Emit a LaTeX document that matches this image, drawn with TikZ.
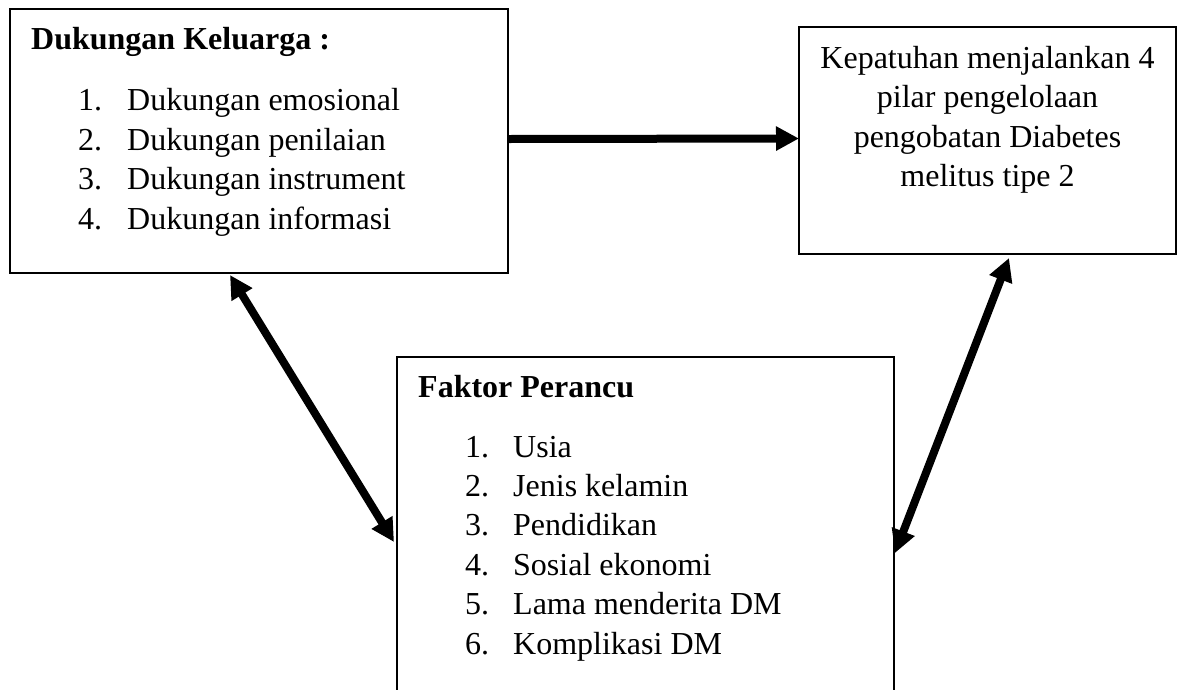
\documentclass[tikz,border=0pt]{standalone}
\usepackage{fontspec}
\setmainfont{Liberation Serif}
\usetikzlibrary{arrows.meta}
\begin{document}
\begin{tikzpicture}[x=1pt,y=-1pt,
  box/.style={draw, line width=1.2pt, inner sep=0pt, outer sep=0pt, anchor=north west},
  txt/.style={inner sep=0pt, anchor=base west, font=\fontsize{32}{39}\selectfont},
  ttl/.style={inner sep=0pt, anchor=base west, font=\fontsize{32}{39}\selectfont\bfseries},
  ctr/.style={inner sep=0pt, anchor=base, font=\fontsize{32}{39}\selectfont},
  tip/.tip={Triangle[length=23pt,width=23pt]},
  arr/.style={line width=8pt, -tip},
  darr/.style={line width=8pt, tip-tip}]
\clip (0,0) rectangle (1178,689);
\fill[white] (0,0) rectangle (1178,689);
% boxes
\node[box, minimum width=498pt, minimum height=264pt] (b1) at (10,9) {};
\node[box, minimum width=377pt, minimum height=227pt] (b2) at (799,27) {};
\node[box, minimum width=497pt, minimum height=370pt] (b3) at (397,357) {};
% box 1 text
\node[ttl] (t1) at (31,49) {Dukungan Keluarga :};
\node[txt] (d1) at (78,110.5) {\makebox[49pt][l]{1.}Dukungan emosional};
\node[txt] (d2) at (78,150) {\makebox[49pt][l]{2.}Dukungan penilaian};
\node[txt] (d3) at (78,189.5) {\makebox[49pt][l]{3.}Dukungan instrument};
\node[txt] (d4) at (78,229) {\makebox[49pt][l]{4.}Dukungan informasi};
% box 2 text
\node[ctr] (k1) at (987.5,68.3) {Kepatuhan menjalankan 4};
\node[ctr] (k2) at (987.5,107.5) {pilar pengelolaan};
\node[ctr] (k3) at (987.5,147) {pengobatan Diabetes};
\node[ctr] (k4) at (987.5,186.5) {melitus tipe 2};
% box 3 text
\node[ttl] (t3) at (418,397) {Faktor Perancu};
\node[txt] (f1) at (465,457) {\makebox[48pt][l]{1.}Usia};
\node[txt] (f2) at (465,496.4) {\makebox[48pt][l]{2.}Jenis kelamin};
\node[txt] (f3) at (465,535.8) {\makebox[48pt][l]{3.}Pendidikan};
\node[txt] (f4) at (465,575.2) {\makebox[48pt][l]{4.}Sosial ekonomi};
\node[txt] (f5) at (465,614.6) {\makebox[48pt][l]{5.}Lama menderita DM};
\node[txt] (f6) at (465,654) {\makebox[48pt][l]{6.}Komplikasi DM};
% arrows
\draw[arr] ([yshift=2pt]b1.east) -- ([yshift=2pt]b2.west);
\draw[darr] ([xshift=-29pt,yshift=-2pt]b1.south) -- ([xshift=-3pt]b3.west);
\draw[darr] ([xshift=21.5pt,yshift=-4pt]b2.south) -- ([xshift=1pt,yshift=-11pt]b3.east);
\end{tikzpicture}
\end{document}
